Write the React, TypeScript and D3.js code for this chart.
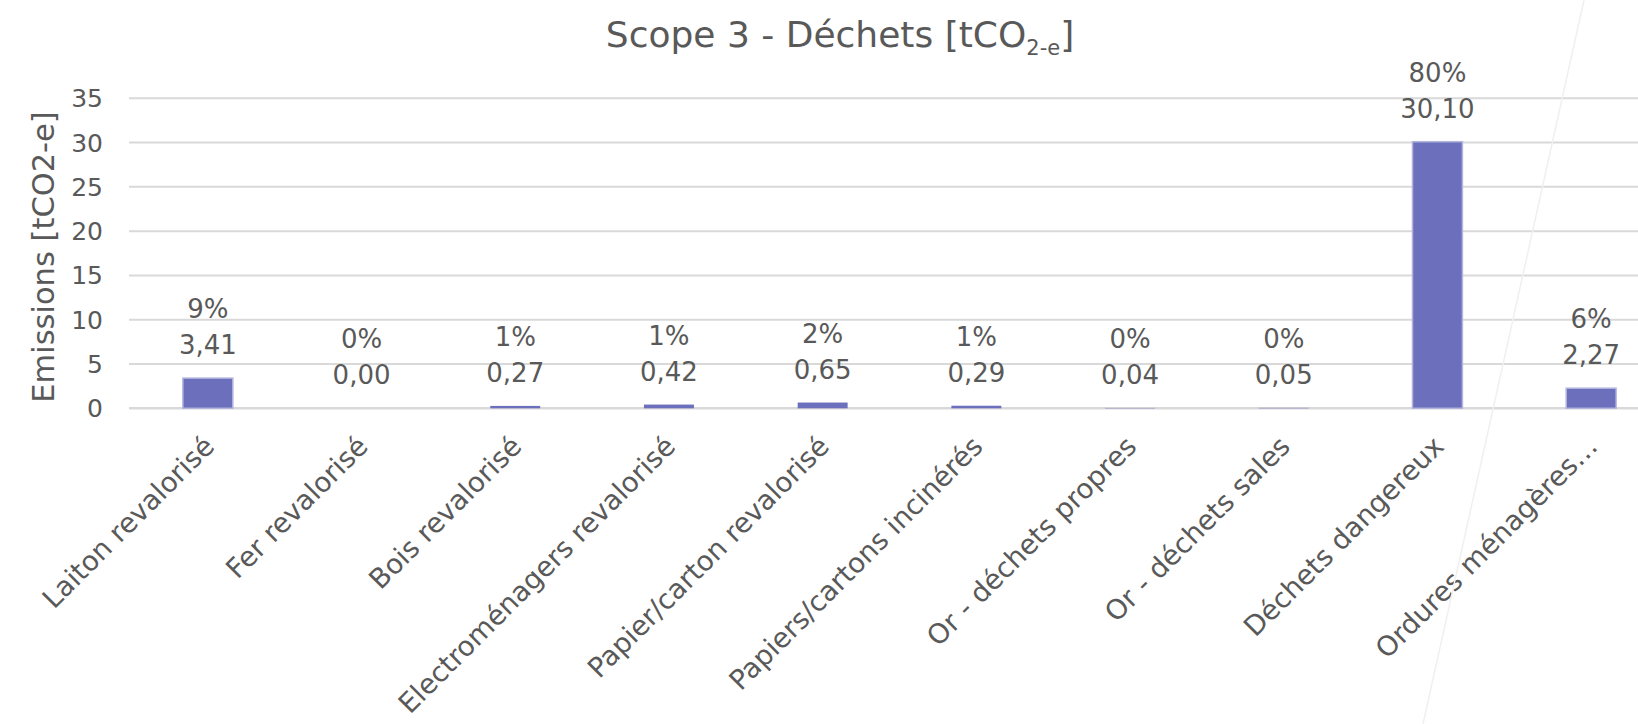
import React from "react";
import * as d3 from "d3";

const categories = [
  "Laiton revalorisé",
  "Fer revalorisé",
  "Bois revalorisé",
  "Electroménagers revalorisé",
  "Papier/carton revalorisé",
  "Papiers/cartons incinérés",
  "Or - déchets propres",
  "Or - déchets sales",
  "Déchets dangereux",
  "Ordures ménagères…",
];
const values = [3.41, 0.0, 0.27, 0.42, 0.65, 0.29, 0.04, 0.05, 30.1, 2.27];
const percents = ["9%", "0%", "1%", "1%", "2%", "1%", "0%", "0%", "80%", "6%"];
const yTicks = [0, 5, 10, 15, 20, 25, 30, 35];

const W = 1638;
const H = 724;
const FONT = "'DejaVu Sans', Verdana, sans-serif";
const TEXT = "#595959";

export default function App() {
  const x = d3
    .scaleBand<string>()
    .domain(categories)
    .range([131, 1668])
    .paddingInner(0.675)
    .paddingOuter(0.3375);
  const y = d3.scaleLinear().domain([0, 35]).range([408.3, 98.3]);
  const fmt = (v: number) => v.toFixed(2).replace(".", ",");

  return (
    <svg
      width={W}
      height={H}
      style={{ position: "absolute", left: 0, top: 0, background: "#fff", overflow: "hidden" }}
    >
      <rect x={0} y={0} width={W} height={H} fill="#fff" />
      {/* title */}
      <text x={840} y={47} textAnchor="middle" fontFamily={FONT} fontSize={36} fill={TEXT}>
        Scope 3 - Déchets [tCO
        <tspan fontSize={21} dy={8}>2-e</tspan>
        <tspan dy={-8}>]</tspan>
      </text>
      {/* y axis title */}
      <text
        transform={`translate(54,257) rotate(-90)`}
        textAnchor="middle"
        fontFamily={FONT}
        fontSize={30.5}
        fill={TEXT}
      >
        Emissions [tCO2-e]
      </text>
      {/* gridlines */}
      {yTicks.map((t) => (
        <line key={t} x1={129} x2={W} y1={y(t)} y2={y(t)} stroke="#d9d9d9" strokeWidth={t === 0 ? 2.5 : 2} />
      ))}
      {/* tick labels */}
      {yTicks.map((t) => (
        <text
          key={"l" + t}
          x={103}
          y={y(t)}
          dy="0.36em"
          textAnchor="end"
          fontFamily={FONT}
          fontSize={25}
          fill={TEXT}
        >
          {t}
        </text>
      ))}
      {/* bars */}
      {categories.map((c, i) => (
        <rect
          key={"b" + c}
          x={x(c)!}
          y={y(values[i])}
          width={x.bandwidth()}
          height={y(0) - y(values[i])}
          fill="#6b6fbc"
          stroke="#b3b5dd"
          strokeWidth={values[i] > 1 ? 1.5 : 0}
        />
      ))}
      {/* data labels */}
      {categories.map((c, i) => {
        const cx = x(c)! + x.bandwidth() / 2;
        const top = y(values[i]);
        return (
          <g key={"d" + c} fontFamily={FONT} fontSize={26} fill={TEXT} textAnchor="middle">
            <text x={cx} y={top - 24}>{fmt(values[i])}</text>
            <text x={cx} y={top - 60}>{percents[i]}</text>
          </g>
        );
      })}
      {/* category labels */}
      {categories.map((c) => {
        const cx = x(c)! + x.bandwidth() / 2;
        return (
          <text
            key={"c" + c}
            transform={`translate(${cx + 8},${448}) rotate(-45)`}
            textAnchor="end"
            fontFamily={FONT}
            fontSize={27.5}
            fill={TEXT}
          >
            {c}
          </text>
        );
      })}
      {/* faint artifact line */}
      <line x1={1584} y1={0} x2={1423} y2={H} stroke="#f0f0f0" strokeWidth={1.5} />
    </svg>
  );
}
